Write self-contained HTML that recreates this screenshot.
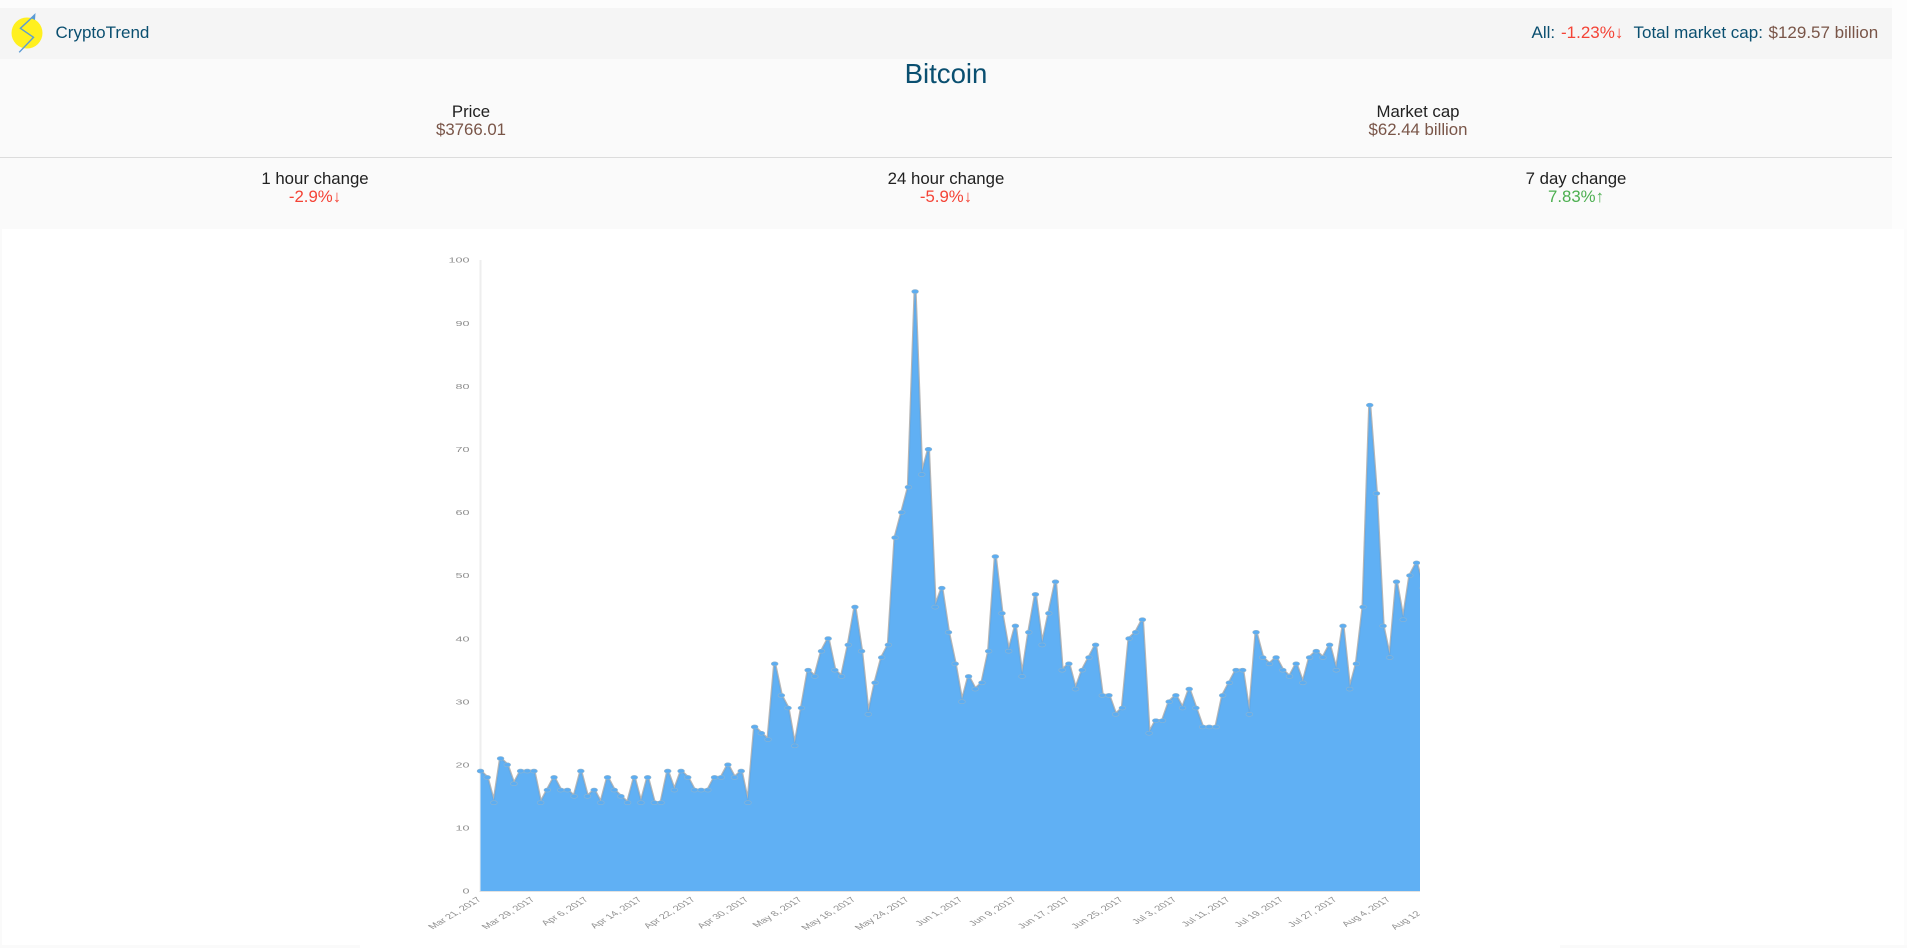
<!DOCTYPE html>
<html lang="en">
<head>
<meta charset="utf-8">
<title>CryptoTrend - Bitcoin</title>
<style>
html,body{margin:0;padding:0;width:1907px;height:948px;overflow:hidden;background:#fff;font-family:"Liberation Sans",sans-serif;}
#page{position:relative;width:1907px;height:948px;background:#fff;overflow:hidden;}
.abs{position:absolute;white-space:nowrap;}
#top-strip{left:0;top:0;width:1907px;height:8px;background:#fcfcfc;}
#right-strip{left:1892px;top:0;width:15px;height:229px;background:#fdfdfd;}
#left-edge{left:0;top:229px;width:2px;height:719px;background:#fafafa;}
#right-edge{left:1904px;top:229px;width:3px;height:719px;background:#fcfcfc;}
#panel{left:0;top:59px;width:1892px;height:170px;background:#fafafa;}
#nav{left:0;top:8px;width:1892px;height:51px;background:#f5f5f5;}
#rule{left:0;top:157px;width:1892px;height:1px;background:#dcdcdc;}
.hdr{font-size:17px;line-height:20px;top:22.5px;}
.blue{color:#0a4f70;}
.brown{color:#795548;}
.red{color:#f44336;}
.green{color:#4caf50;}
.stat{font-size:16.8px;line-height:20px;text-align:center;width:630px;}
.lbl{color:#212121;}
#title{left:0;top:57px;width:1892px;text-align:center;font-size:27.6px;line-height:34px;color:#0a4f70;}
.foot{top:945px;height:3px;background:#fafafa;}
svg{position:absolute;left:0;top:0;}
#chart{filter:blur(0.35px);}
</style>
</head>
<body>
<div id="page">
  <div class="abs" id="top-strip"></div>
  <div class="abs" id="right-strip"></div>
  <div class="abs" id="left-edge"></div>
  <div class="abs" id="right-edge"></div>
  <div class="abs" id="panel"></div>
  <div class="abs" id="nav"></div>
  <svg width="60" height="60">
    <circle cx="27" cy="33" r="15.5" fill="#fff01f"></circle>
    <polyline points="34.7,15 20.4,28.3 33.5,37.3 19.2,52.3" fill="none" stroke="#5b9bd5" stroke-width="1.4"></polyline>
    <polygon points="35.5,13 35,20 30.5,18" fill="#5b9bd5"></polygon>
  </svg>
  <div class="abs hdr blue" style="left:55.5px">CryptoTrend</div>
  <div class="abs hdr blue" style="left:1531.5px">All:</div>
  <div class="abs hdr red" style="left:1561px">-1.23%↓</div>
  <div class="abs hdr blue" style="left:1633.5px">Total market cap:</div>
  <div class="abs hdr brown" style="left:1768.5px">$129.57 billion</div>

  <div class="abs" id="title">Bitcoin</div>

  <div class="abs stat lbl" style="left:156px;top:102px">Price</div>
  <div class="abs stat brown" style="left:156px;top:120px">$3766.01</div>
  <div class="abs stat lbl" style="left:1103px;top:102px">Market cap</div>
  <div class="abs stat brown" style="left:1103px;top:120px">$62.44 billion</div>
  <div class="abs" id="rule"></div>

  <div class="abs stat lbl" style="left:0;top:169px">1 hour change</div>
  <div class="abs stat red" style="left:0;top:187px">-2.9%↓</div>
  <div class="abs stat lbl" style="left:631px;top:169px">24 hour change</div>
  <div class="abs stat red" style="left:631px;top:187px">-5.9%↓</div>
  <div class="abs stat lbl" style="left:1261px;top:169px">7 day change</div>
  <div class="abs stat green" style="left:1261px;top:187px">7.83%↑</div>

  <svg id="chart" width="1420" height="948"></svg>

  <div class="abs foot" style="left:0;width:360px"></div>
  <div class="abs foot" style="left:1560px;width:347px"></div>
</div>

<script>
const values = [19,18,14,21,20,17,19,19,19,14,16,18,16,16,15,19,15,16,14,18,16,15,14,18,14,18,14,14,19,16,19,18,16,16,16,18,18,20,18,19,14,26,25,24,36,31,29,23,29,35,34,38,40,35,34,39,45,38,28,33,37,39,56,60,64,95,66,70,45,48,41,36,30,34,32,33,38,53,44,38,42,34,41,47,39,44,49,35,36,32,35,37,39,31,31,28,29,40,41,43,25,27,27,30,31,29,32,29,26,26,26,31,33,35,35,28,41,37,36,37,35,34,36,33,37,38,37,39,35,42,32,36,45,77,63,42,37,49,43,50,52,48];
const xTickLabels = ["Mar 21, 2017","Mar 29, 2017","Apr 6, 2017","Apr 14, 2017","Apr 22, 2017","Apr 30, 2017","May 8, 2017","May 16, 2017","May 24, 2017","Jun 1, 2017","Jun 9, 2017","Jun 17, 2017","Jun 25, 2017","Jul 3, 2017","Jul 11, 2017","Jul 19, 2017","Jul 27, 2017","Aug 4, 2017","Aug 12, 2017"];
const yTickLabels = [0,10,20,30,40,50,60,70,80,90,100];
const xTickEvery = 8;

const NS = 'http://www.w3.org/2000/svg';
const chart = document.getElementById('chart');
const plotLeft = 480.5, plotBase = 891, stepX = 6.686, unitY = 6.31, stretch = 1.66, tickFont = 7.1;
function xScale(i){ return plotLeft + i * stepX; }
function yScale(v){ return plotBase - v * unitY; }
function make(tag, attrs){
  const el = document.createElementNS(NS, tag);
  for (const k in attrs) el.setAttribute(k, attrs[k]);
  return el;
}

const linePts = values.map((v, i) => xScale(i).toFixed(2) + ',' + yScale(v).toFixed(2));
const lineD = 'M' + linePts.join('L');
const areaD = lineD + 'L' + xScale(values.length - 1).toFixed(2) + ',' + plotBase + 'L' + plotLeft + ',' + plotBase + 'Z';

const yAxis = make('line', {x1: plotLeft, x2: plotLeft, y1: yScale(100), y2: plotBase, stroke: '#eeeeee', 'stroke-width': 2});


chart.appendChild(yAxis);

const halo = make('path', {d: lineD, fill: 'none', stroke: 'rgba(110,110,110,0.5)', 'stroke-width': 3.2, 'stroke-linejoin': 'round'});


chart.appendChild(halo);

const area = make('path', {d: areaD, fill: '#60b0f4'});


chart.appendChild(area);

const line = make('path', {d: lineD, fill: 'none', stroke: '#62a9e6', 'stroke-width': 1, 'stroke-linejoin': 'round'});


chart.appendChild(line);

const xAxis = make('line', {x1: plotLeft - 1, x2: 1420, y1: plotBase + 0.5, y2: plotBase + 0.5, stroke: '#e2e2e2', 'stroke-width': 1});


chart.appendChild(xAxis);

values.forEach((v, i) => {
  const dot = make('ellipse', {cx: xScale(i), cy: yScale(v), rx: 3.4, ry: 2, fill: '#5cadf2', stroke: '#8fb4cf', 'stroke-width': 0.6});
  
  
  chart.appendChild(dot);
});

yTickLabels.forEach((t) => {
  const label = make('text', {
    transform: 'translate(469.5,' + (yScale(t) + 2.7) + ') scale(' + (stretch * 1.07) + ',1)',
    'text-anchor': 'end', 'font-size': tickFont, fill: '#8f8f8f',
    'font-family': '"Liberation Sans",sans-serif'
  });
  
  
  label.textContent = t;
  chart.appendChild(label);
});

xTickLabels.forEach((t, i) => {
  const label = make('text', {
    transform: 'translate(' + (xScale(i * xTickEvery) + 1.5) + ',900) scale(' + stretch + ',1) rotate(-45)',
    'text-anchor': 'end', 'font-size': tickFont, fill: '#8f8f8f',
    'font-family': '"Liberation Sans",sans-serif'
  });
  
  
  label.textContent = t;
  chart.appendChild(label);
});
</script>
</body>
</html>
